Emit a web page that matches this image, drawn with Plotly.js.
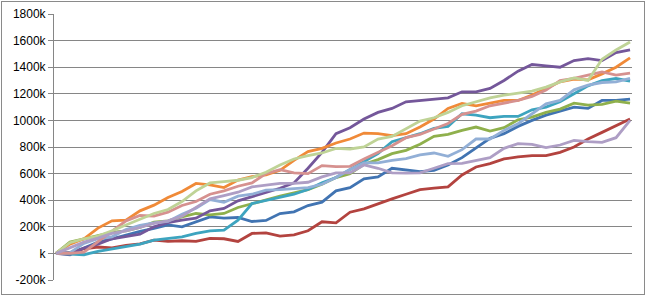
<!DOCTYPE html>
<html>
<head>
<meta charset="utf-8">
<script src="https://cdn.plot.ly/plotly-3.0.1.min.js"></script>
<style>
  html, body { margin: 0; padding: 0; background: #fff; }
  #wrap { position: relative; width: 647px; height: 296px; }
  #chart { position: absolute; left: 0; top: 0; width: 647px; height: 296px; }
  #frame { position: absolute; left: 1px; top: 1px; width: 644px; height: 294px;
           box-sizing: border-box; border: 1px solid #8a8a8a; pointer-events: none; }
</style>
</head>
<body>
<div id="wrap"><div id="chart"></div><div id="frame"></div></div>
<script>
// Time steps (sampled)
const steps = [0,1,2,3,4,5,6,7,8,9,10,11,12,13,14,15,16,17,18,19,20,
               21,22,23,24,25,26,27,28,29,30,31,32,33,34,35,36,37,38,39,40,41];

// Series values in thousands
const series1 = [0,5,40,85,110,140,165,188,215,200,235,275,265,270,240,248,300,313,360,385,470,
                 495,560,575,640,630,615,625,665,720,790,865,900,955,1000,1040,1070,1100,1090,1150,1150,1160];
const series2 = [0,5,35,48,42,60,72,100,90,95,90,113,110,90,150,155,130,140,170,238,230,
                 310,335,375,410,445,480,490,500,590,650,675,710,725,735,735,760,800,860,910,960,1010];
const series3 = [0,85,110,135,158,170,195,235,245,275,300,290,300,345,375,400,430,455,480,520,570,
                 600,670,705,750,775,820,880,895,925,950,920,945,1005,1025,1060,1085,1130,1115,1120,1145,1130];
const series4 = [0,-10,40,70,110,130,145,200,232,250,265,320,338,395,426,455,490,530,640,760,900,
                 945,1010,1060,1090,1140,1150,1160,1170,1215,1215,1240,1300,1370,1420,1410,1400,1450,1465,1450,1510,1530];
const series5 = [0,-5,-10,15,35,55,70,100,110,125,150,170,175,250,375,400,420,445,480,530,570,
                 630,690,750,840,870,900,940,955,1050,1040,1020,1030,1030,1080,1100,1140,1200,1260,1300,1315,1295];
const series6 = [0,70,110,190,245,250,320,363,420,465,526,515,495,551,577,590,625,700,765,790,830,
                 860,905,900,885,900,950,1010,1090,1128,1110,1130,1150,1150,1190,1240,1290,1310,1305,1350,1400,1470];
const series7 = [0,5,75,110,125,180,210,230,240,295,340,405,385,430,445,476,480,489,495,520,570,
                 630,680,680,700,712,740,755,730,780,860,860,925,975,1050,1125,1150,1230,1265,1285,1290,1316];
const series8 = [0,0,10,90,170,245,285,280,310,360,390,445,470,505,530,600,630,605,600,660,652,
                 655,710,760,810,870,895,935,977,1045,1070,1110,1128,1150,1180,1228,1300,1316,1340,1365,1340,1355];
const series9 = [0,80,110,130,170,215,260,300,330,390,470,530,540,550,570,610,665,710,735,755,790,
                 785,800,860,880,940,995,1020,1060,1110,1140,1170,1190,1205,1220,1250,1290,1320,1300,1460,1530,1590];
const series10 = [0,45,85,115,150,170,195,226,245,280,345,410,435,460,500,515,526,526,535,575,605,
                  605,665,640,605,603,605,640,675,677,700,720,790,825,820,795,815,850,840,835,870,1000];

const seriesNames = ['Series1','Series2','Series3','Series4','Series5','Series6','Series7','Series8','Series9','Series10'];
const seriesColors = ['#4174B2','#B3433F','#8FB04C','#74579A','#3DA4BF','#F08A38','#92AFD6','#D6918F','#BFD396','#AE9EC5'];

// Y axis ticks
const yTickVals = [-200,0,200,400,600,800,1000,1200,1400,1600,1800];
const yTickText = ['-200k','k','200k','400k','600k','800k','1000k','1200k','1400k','1600k','1800k'];

const allSeries = [series1,series2,series3,series4,series5,series6,series7,series8,series9,series10];
const traces = allSeries.map((vals, i) => ({
  x: steps, y: vals, type: 'scatter', mode: 'lines', name: seriesNames[i],
  line: { color: seriesColors[i], width: 2.8 }
}));

const layout = {
  width: 647, height: 296,
  margin: { l: 54, r: 15, t: 14, b: 16, pad: 0 },
  paper_bgcolor: '#ffffff', plot_bgcolor: '#ffffff',
  showlegend: false,
  xaxis: { range: [-0.14, 41.14], showgrid: false, zeroline: false, showline: false,
           showticklabels: false, ticks: '' },
  yaxis: { range: [-200, 1800], tickmode: 'array', tickvals: yTickVals, ticktext: yTickText,
           showgrid: true, gridcolor: '#868686', gridwidth: 1, zeroline: false,
           showline: true, linecolor: '#868686', linewidth: 1,
           ticks: 'outside', ticklen: 5, tickcolor: '#868686', tickwidth: 1,
           tickfont: { family: 'Liberation Sans, Arial, sans-serif', size: 12, color: '#000000' } },
  font: { family: 'Liberation Sans, Arial, sans-serif' }
};

Plotly.newPlot('chart', traces, layout, { staticPlot: true, displayModeBar: false });
</script>
</body>
</html>
